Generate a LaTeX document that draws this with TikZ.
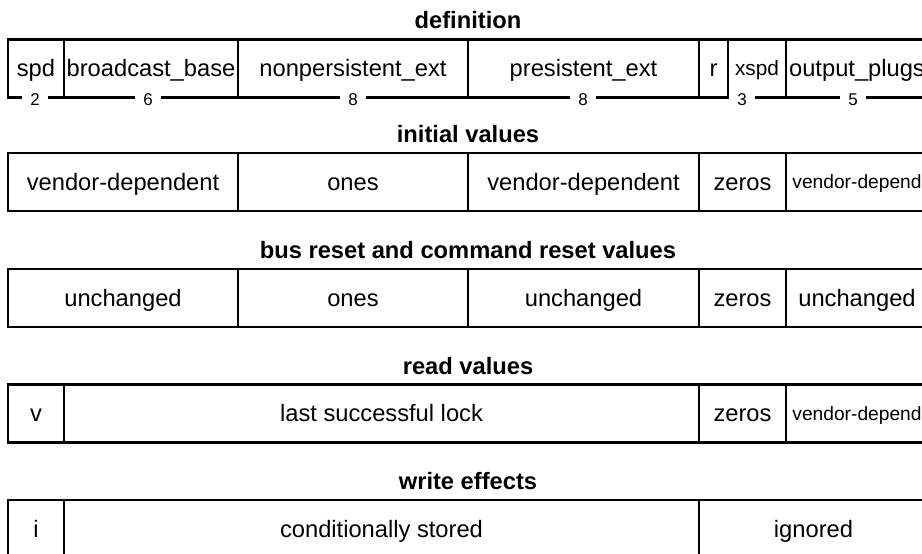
\documentclass[tikz,border=0pt]{standalone}
\usepackage{fontspec}
\setmainfont{Liberation Sans}
\usetikzlibrary{positioning}

\begin{document}
\begin{tikzpicture}[x=1pt, y=-1pt,
  field/.style={rectangle, draw, line width=2.4pt, inner sep=0pt,
                minimum height=58pt, text height=21.4pt, text depth=5pt,
                font=\fontsize{23.7}{28}\selectfont},
  narrow/.style={field, text height=18.9pt, text depth=4.4pt,
                 font=\fontsize{20.8}{25}\selectfont},
  spill/.style={field, text height=17.4pt, text depth=4.1pt,
                font=\fontsize{19.2}{23}\selectfont},
  bits/.style={fill=white, inner xsep=8pt, inner ysep=0pt,
               text height=15.4pt, text depth=3.6pt,
               font=\fontsize{17}{20}\selectfont},
  title/.style={inner sep=0pt, text height=21.4pt, text depth=5pt,
                font=\fontsize{23.7}{28}\selectfont\bfseries},
]
  \useasboundingbox (0,0) rectangle (922,554);
  \clip (0,0) rectangle (922,554);

  % Definition
  \node[title] (tdef) at (468,19.8) {definition};
  \node[field, minimum width=56pt]  (dspd)  at (36,68.5)    {spd};
  \node[field, minimum width=174pt] (dbase) at (151,68.5)   {broadcast\_base};
  \node[field, minimum width=230pt] (dnon)  at (353,68.5)   {nonpersistent\_ext};
  \node[field, minimum width=231pt] (dper)  at (583.5,68.5) {presistent\_ext};
  \node[field, minimum width=29pt]  (dr)    at (713.5,68.5) {r};
  \node[narrow, minimum width=58pt] (dxspd) at (757,68.5)   {xspd};
  \node[field, minimum width=142pt] (dplug) at (857,68.5)   {output\_plugs};

  % Bit widths on the bottom edge
  \node[bits] (wspd)  at (35,99.5)  {2};
  \node[bits] (wbase) at (148,99.5) {6};
  \node[bits] (wnon)  at (353,99.5) {8};
  \node[bits] (wper)  at (583,99.5) {8};
  \node[bits] (wxspd) at (742,99.5) {3};
  \node[bits] (wplug) at (853,99.5) {5};

  % Initial values
  \node[title] (tinit) at (468,133.8) {initial values};
  \node[field, minimum width=230pt] (ivd)   at (123,182)   {vendor-dependent};
  \node[field, minimum width=230pt] (iones) at (353,182)   {ones};
  \node[field, minimum width=231pt] (ivd2)  at (583.5,182) {vendor-dependent};
  \node[field, minimum width=87pt]  (izero) at (742.5,182) {zeros};
  \node[spill, minimum width=142pt] (ivd3)  at (857,182)   {vendor-depend};

  % Bus reset and command reset values
  \node[title] (treset) at (468,249.8) {bus reset and command reset values};
  \node[field, minimum width=230pt] (rkeep)  at (123,298)   {unchanged};
  \node[field, minimum width=230pt] (rones)  at (353,298)   {ones};
  \node[field, minimum width=231pt] (rkeep2) at (583.5,298) {unchanged};
  \node[field, minimum width=87pt]  (rzero)  at (742.5,298) {zeros};
  \node[field, minimum width=142pt] (rkeep3) at (857,298)   {unchanged};

  % Read values
  \node[title] (tread) at (468,365.8) {read values};
  \node[field, minimum width=56pt]  (qv)    at (36,413.5)    {v};
  \node[field, minimum width=635pt] (qlock) at (381.5,413.5) {last successful lock};
  \node[field, minimum width=87pt]  (qzero) at (742.5,413.5) {zeros};
  \node[spill, minimum width=142pt] (qvd)   at (857,413.5)   {vendor-depend};

  % Write effects
  \node[title] (twrite) at (468,480.8) {write effects};
  \node[field, minimum width=56pt]  (wi)    at (36,529)    {i};
  \node[field, minimum width=635pt] (wcond) at (381.5,529) {conditionally stored};
  \node[field, minimum width=229pt] (wign)  at (813.5,529) {ignored};

\end{tikzpicture}
\end{document}
